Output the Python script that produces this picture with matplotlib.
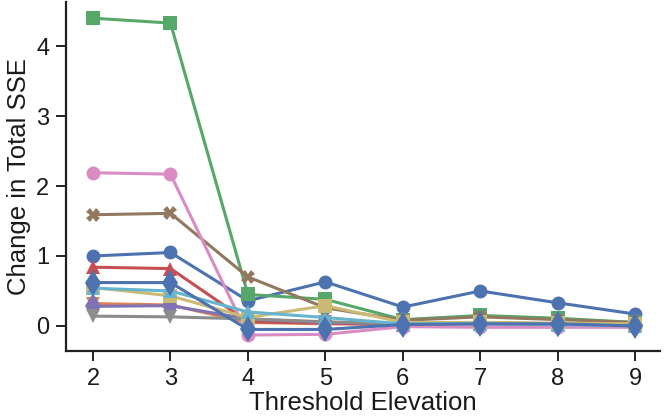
import matplotlib
matplotlib.use("Agg")
import matplotlib.pyplot as plt
import seaborn as sns

sns.set_theme(style="ticks", palette="deep")
plt.rcParams['font.family'] = ['Liberation Sans', 'DejaVu Sans']

thresholds = [2, 3, 4, 5, 6, 7, 8, 9]

s_blue_o   = [1.00, 1.05, 0.36, 0.63, 0.27, 0.50, 0.33, 0.17]
s_orange_v = [0.32, 0.30, 0.05, 0.03, 0.02, 0.03, 0.02, 0.01]
s_green_s  = [4.40, 4.33, 0.45, 0.38, 0.09, 0.15, 0.11, 0.05]
s_red_t    = [0.84, 0.82, 0.06, 0.04, 0.02, 0.04, 0.03, 0.02]
s_purple_d = [0.28, 0.29, 0.10, 0.05, 0.03, 0.05, 0.03, 0.02]
s_brown_x  = [1.59, 1.61, 0.70, 0.26, 0.08, 0.13, 0.09, 0.05]
s_pink_o   = [2.19, 2.17, -0.13, -0.12, -0.01, -0.02, -0.02, -0.02]
s_gray_v   = [0.14, 0.13, 0.10, 0.06, 0.03, 0.04, 0.03, 0.02]
s_olive_s  = [0.55, 0.43, 0.12, 0.29, 0.05, 0.05, 0.04, 0.03]
s_cyan_t   = [0.54, 0.50, 0.20, 0.12, 0.03, 0.03, 0.02, 0.00]
s_blue_d   = [0.62, 0.62, -0.05, -0.05, 0.02, 0.03, 0.03, 0.00]

series = [s_blue_o, s_orange_v, s_green_s, s_red_t, s_purple_d, s_brown_x,
          s_pink_o, s_gray_v, s_olive_s, s_cyan_t, s_blue_d]
markers = ['o', 'v', 's', '^', 'd', 'X', 'o', 'v', 's', '^', 'd']
colors = sns.color_palette("deep", 10)

fig = plt.figure(figsize=(6.66, 4.2), dpi=100)
ax = fig.add_axes([0.099, 0.164, 0.892, 0.831])

for i, (vals, m) in enumerate(zip(series, markers)):
    ms = 13 if m == 'd' else 10
    ax.plot(thresholds, vals, marker=m, color=colors[i % 10], lw=2.2,
            markersize=ms, markeredgewidth=0)

ax.set_xlim(1.65, 9.32)
ax.set_ylim(-0.36, 4.63)
ax.set_xticks(thresholds)
ax.set_yticks([0, 1, 2, 3, 4])
ax.tick_params(labelsize=17, length=7, width=1.4, color='#222222',
               labelcolor='#1a1a1a', pad=5)
for sp in ['left', 'bottom']:
    ax.spines[sp].set_linewidth(1.6)
    ax.spines[sp].set_color('#222222')
ax.spines['top'].set_visible(False)
ax.spines['right'].set_visible(False)
ax.set_xlabel("Threshold Elevation", fontsize=18.5, labelpad=1, color='#1a1a1a')
ax.set_ylabel("Change in Total SSE", fontsize=18.5, labelpad=4, color='#1a1a1a')

fig.savefig("out.png", dpi=100)
